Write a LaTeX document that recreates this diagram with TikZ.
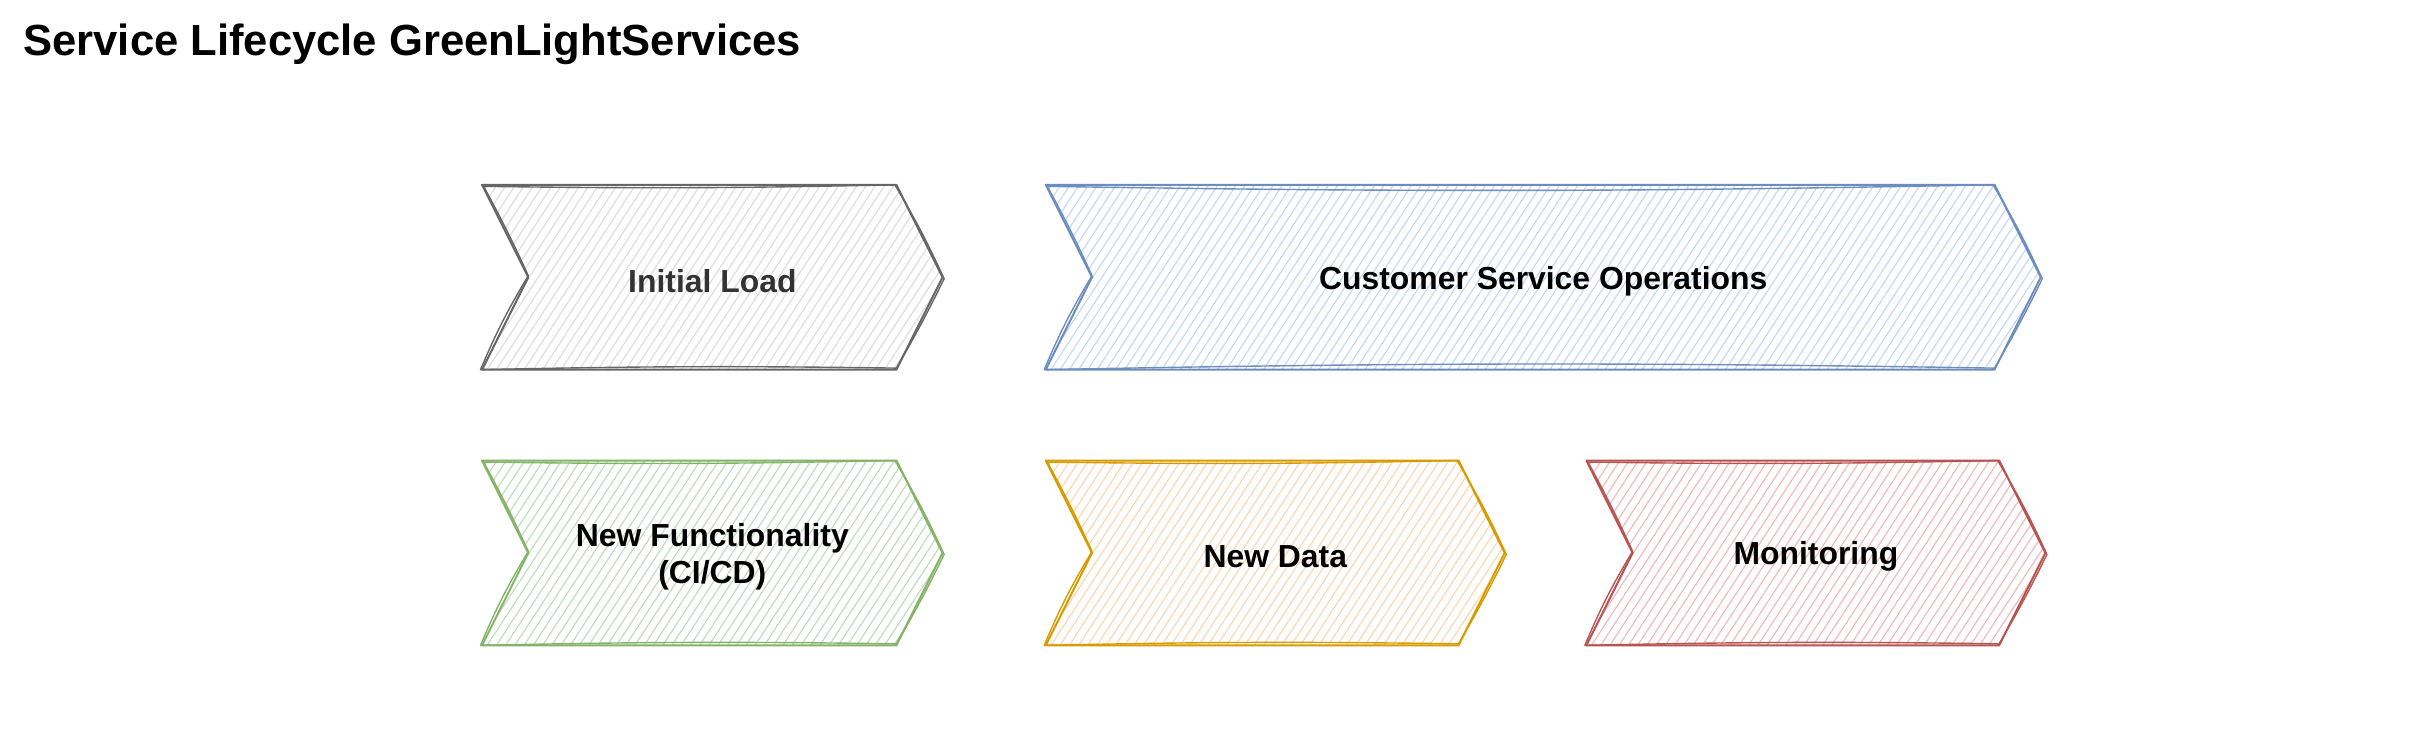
\documentclass[tikz,border=0pt]{standalone}
\usepackage{fontspec}
\setmainfont{Liberation Sans}
\usepackage{tikz}

\definecolor{greyhatch}{HTML}{DDDDDD}
\definecolor{greyline}{HTML}{666666}
\definecolor{greytext}{HTML}{333333}
\definecolor{bluehatch}{HTML}{C2D8F8}
\definecolor{blueline}{HTML}{6C8EBF}
\definecolor{greenhatch}{HTML}{BFDCBD}
\definecolor{greenline}{HTML}{82B366}
\definecolor{orangehatch}{HTML}{FCD6B0}
\definecolor{orangeline}{HTML}{D79B00}
\definecolor{redhatch}{HTML}{F1B9B7}
\definecolor{redline}{HTML}{B85450}

\begin{document}
\begin{tikzpicture}[x=1pt,y=-1pt,
    stepline/.style={line width=1.3pt, line join=round},
    hatch/.style={line width=0.75pt},
    steptext/.style={font=\bfseries\fontsize{20.7}{24}\selectfont, align=center}]
    \useasboundingbox (0,0) rectangle (1568,486);
    \node[anchor=west, inner sep=0pt, font=\bfseries\fontsize{28.3}{34}\selectfont] (title) at (15,29) {Service Lifecycle GreenLightServices};
    % chevrons: name / left / top / width / colour / text colour / text
    \foreach \n/\x/\y/\w/\col/\tc/\t in {load/313/120/299/grey/greytext/Initial Load,
        ops/679/120/646/blue/black/Customer Service Operations,
        func/313/299/299/green/black/{New Functionality\\(CI/CD)},
        data/679/299/298/orange/black/New Data,
        mon/1030/299/298/red/black/Monitoring} {
      \begin{scope}
        \clip (\x,\y) -- (\x+\w-30,\y) -- (\x+\w,\y+60) -- (\x+\w-30,\y+120)
          -- (\x,\y+120) -- (\x+30,\y+60) -- cycle;
        \foreach \h in {-90,-84,...,\w} \draw[hatch, \col hatch] (\x+\h,\y+125) -- ++(85,-130);
      \end{scope}
      \draw[stepline, \col line] (\x,\y) -- (\x+\w-30,\y) -- (\x+\w,\y+60) -- (\x+\w-30,\y+120)
        -- (\x,\y+120) -- (\x+30,\y+60) -- cycle;
      \draw[stepline, \col line, line width=0.9pt] (\x+1,\y+1) to[bend right=1] (\x+\w-31,\y)
        to[bend left=3] (\x+\w+1,\y+61) to[bend left=2] (\x+\w-30,\y+119)
        to[bend right=1] (\x-1,\y+120) to[bend left=4] (\x+30,\y+59) to[bend right=2] (\x+1,\y+1);
      \node[steptext, text=\tc] (\n) at (\x+\w/2,\y+62.5) {\t};
    }
\end{tikzpicture}
\end{document}
